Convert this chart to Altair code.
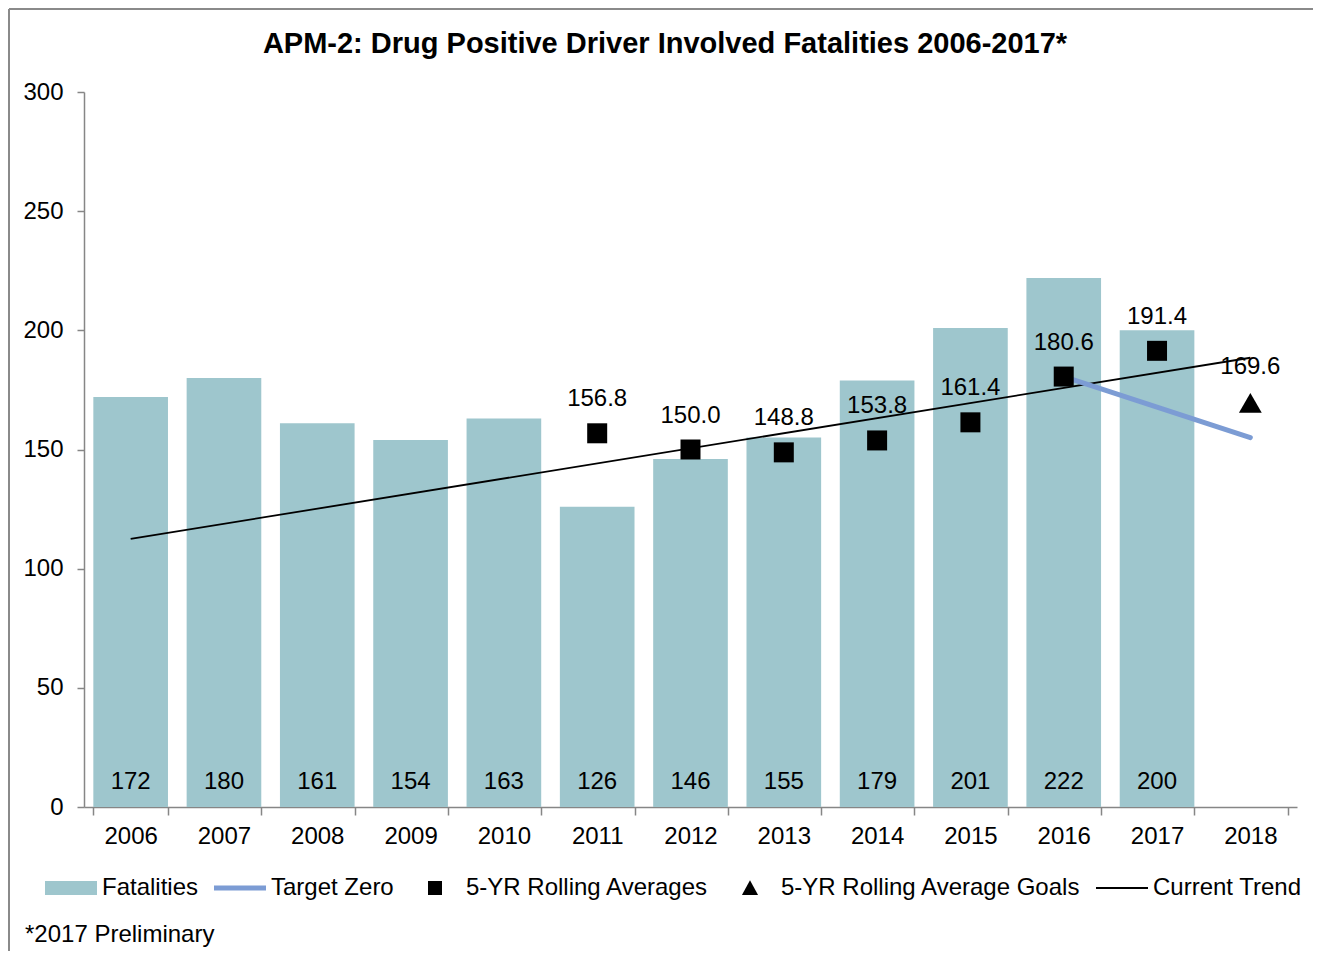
import altair as alt
import pandas as pd

FONT = "Liberation Sans"

title_text = "APM-2: Drug Positive Driver Involved Fatalities 2006-2017*"
footnote_text = "*2017 Preliminary"
years = ["2006", "2007", "2008", "2009", "2010", "2011", "2012",
         "2013", "2014", "2015", "2016", "2017", "2018"]
fatal_years = years[:12]
fatalities = [172, 180, 161, 154, 163, 126, 146, 155, 179, 201, 222, 200]
avg_years = ["2011", "2012", "2013", "2014", "2015", "2016", "2017"]
rolling_avgs = [156.8, 150.0, 148.8, 153.8, 161.4, 180.6, 191.4]
goal_years = ["2018"]
goals = [169.6]
target_years = ["2016", "2018"]
target_zero = [180.6, 155.0]
trend_years = ["2006", "2018"]
trend_vals = [112.5, 188.5]
series_names = ["Fatalities", "Target Zero", "5-YR Rolling Averages",
                "5-YR Rolling Average Goals", "Current Trend"]

W, H = 1213, 715

bar_df = pd.DataFrame({"year": fatal_years, "value": fatalities})
avg_df = pd.DataFrame({"year": avg_years, "value": rolling_avgs})
goal_df = pd.DataFrame({"year": goal_years, "value": goals})
target_df = pd.DataFrame({"year": target_years, "value": target_zero})
trend_df = pd.DataFrame({"year": trend_years, "value": trend_vals})
legend_df = pd.DataFrame({"series": series_names})

xscale = alt.Scale(domain=years, paddingInner=0.2, paddingOuter=0.1)
x_enc = alt.X("year:N", scale=xscale, title=None,
              axis=alt.Axis(labelAngle=0, tickBand="extent", tickSize=8,
                            labelPadding=9, labelFontSize=24, labelFont=FONT,
                            labelColor="black", domainColor="#868686",
                            tickColor="#868686", domainWidth=1.5, tickWidth=1.5))
y_enc = alt.Y("value:Q", scale=alt.Scale(domain=[0, 300]), title=None,
              axis=alt.Axis(values=[0, 50, 100, 150, 200, 250, 300], grid=False,
                            tickSize=7, labelPadding=14, labelFontSize=24,
                            labelFont=FONT, labelColor="black",
                            domainColor="#868686", tickColor="#868686",
                            domainWidth=1.5, tickWidth=1.5))

bars = alt.Chart(bar_df).mark_bar(color="#9EC6CD").encode(x=x_enc, y=y_enc)

bar_labels = alt.Chart(bar_df).mark_text(
    font=FONT, fontSize=24, color="black", baseline="middle"
).encode(x=alt.X("year:N", scale=xscale), y=alt.value(H - 25), text="value:Q")

trend = alt.Chart(trend_df).mark_line(color="black", strokeWidth=1.8).encode(
    x=alt.X("year:N", scale=xscale), y="value:Q")

target = alt.Chart(target_df).mark_line(
    color="#7C9CD4", strokeWidth=5, strokeCap="round"
).encode(x=alt.X("year:N", scale=xscale), y="value:Q")

squares = alt.Chart(avg_df).mark_point(
    shape="square", filled=True, color="black", size=400, opacity=1
).encode(x=alt.X("year:N", scale=xscale), y="value:Q")

avg_labels = alt.Chart(avg_df).mark_text(
    font=FONT, fontSize=24, color="black", dy=-34
).encode(x=alt.X("year:N", scale=xscale), y="value:Q",
         text=alt.Text("value:Q", format=".1f"))

tri = alt.Chart(goal_df).mark_point(
    shape="triangle-up", filled=True, color="black", size=520, opacity=1
).encode(x=alt.X("year:N", scale=xscale), y="value:Q")

goal_labels = alt.Chart(goal_df).mark_text(
    font=FONT, fontSize=24, color="black", dy=-36
).encode(x=alt.X("year:N", scale=xscale), y="value:Q",
         text=alt.Text("value:Q", format=".1f"))

legend_layer = alt.Chart(legend_df).mark_point(filled=True, opacity=0).encode(
    x=alt.value(0), y=alt.value(0),
    color=alt.Color("series:N",
                    scale=alt.Scale(domain=series_names,
                                    range=["#9EC6CD", "#7C9CD4", "black", "black", "black"]),
                    legend=alt.Legend(title=None)),
    shape=alt.Shape("series:N",
                    scale=alt.Scale(domain=series_names,
                                    range=["M-1,-0.27H1V0.27H-1Z",
                                           "M-1,-0.1H1V0.1H-1Z",
                                           "M-0.27,-0.27H0.27V0.27H-0.27Z",
                                           "M0,-0.3L0.31,0.27H-0.31Z",
                                           "M-1,-0.04H1V0.04H-1Z"]),
                    legend=alt.Legend(title=None)),
)

title = alt.Chart(pd.DataFrame({"t": [title_text]})).mark_text(
    font=FONT, fontSize=29, fontWeight="bold", color="black",
    align="center", baseline="alphabetic"
).encode(x=alt.value(665 - 84), y=alt.value(53 - 92), text="t:N")

footnote = alt.Chart(pd.DataFrame({"t": [footnote_text]})).mark_text(
    font=FONT, fontSize=24, color="black", align="left", baseline="middle"
).encode(x=alt.value(25 - 84), y=alt.value(935 - 92), text="t:N")

border_top = alt.Chart(pd.DataFrame({"a": [0]})).mark_rule(
    color="#8a8a8a", strokeWidth=2
).encode(x=alt.value(-75), x2=alt.value(1250), y=alt.value(-83))
border_left = alt.Chart(pd.DataFrame({"a": [0]})).mark_rule(
    color="#8a8a8a", strokeWidth=2
).encode(x=alt.value(-75), y=alt.value(-83), y2=alt.value(H + 170))

chart = alt.layer(
    border_top, border_left, title,
    bars, bar_labels, trend, target, squares, avg_labels, tri, goal_labels,
    legend_layer, footnote,
).properties(
    width=W, height=H,
    autosize=alt.AutoSizeParams(type="none"),
    padding={"left": 76, "top": 84, "right": 16, "bottom": 144},
).configure_view(stroke=None).configure_legend(
    orient="none", legendX=-39, legendY=770, direction="horizontal",
    symbolSize=2704, symbolStrokeWidth=0, symbolOpacity=1,
    labelFontSize=24, labelFont=FONT, labelColor="black",
    labelOffset=5, columnPadding=15, labelLimit=500,
)

chart.save("out.html", embed_options={"renderer": "svg", "actions": False})
